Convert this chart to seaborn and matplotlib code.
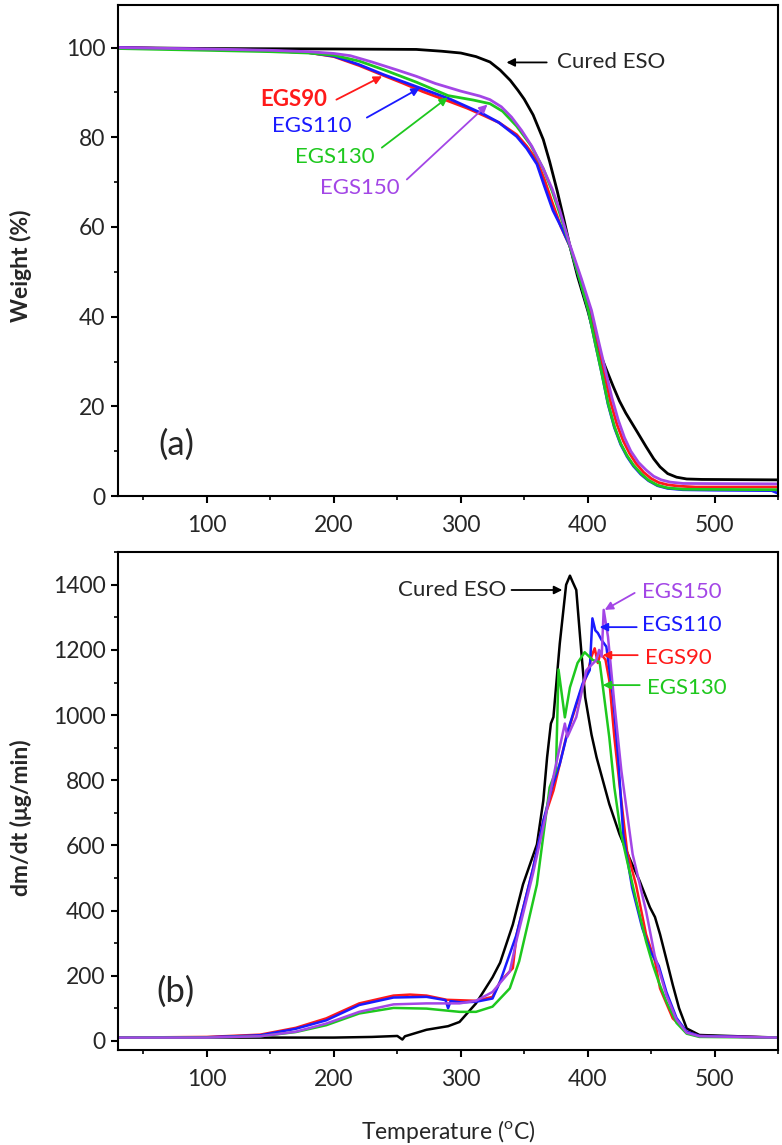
import numpy as np
import pandas as pd
import seaborn as sns
import matplotlib.pyplot as plt
from matplotlib.ticker import MultipleLocator

# ---- (a) TGA weight curves ----
eso_t = [30, 100, 200, 265, 285, 300, 312, 323, 331, 339, 345, 350, 357, 365, 370, 376, 381, 386, 392, 400, 408, 415, 420, 425, 430, 439, 446, 452, 457, 463, 470, 478, 490, 550]
eso_w = [100, 99.8, 99.7, 99.6, 99.2, 98.8, 98, 96.8, 95, 92.7, 90.5, 88.5, 85, 79.5, 74.6, 68, 62, 55.7, 49, 41.4, 33, 28, 24.5, 21.2, 18.5, 14.3, 11, 8.3, 6.5, 5, 4.2, 3.8, 3.7, 3.6]

egs90_t = [30, 100, 150, 180, 200, 220, 239, 255, 270, 291, 305, 317, 330, 344, 352, 360, 366, 372, 379, 386, 395, 402, 408, 413, 418, 423, 428, 433, 438, 444, 450, 456, 463, 472, 485, 550]
egs90_w = [100, 99.6, 99.3, 98.9, 98, 96, 93.8, 92, 90.2, 88, 86.5, 85, 83.3, 80.6, 78, 74.8, 70.5, 65.5, 60, 55.7, 48, 41.4, 34, 27.5, 21, 16, 12.3, 9.5, 7.3, 5.3, 3.9, 3.0, 2.5, 2.2, 2.0, 2.0]

egs110_t = [30, 100, 150, 180, 200, 220, 239, 268, 291, 317, 330, 344, 352, 360, 366, 372.6, 380, 386, 394, 400.5, 406, 411, 416, 421, 426, 431, 436, 442, 448, 455, 463, 475, 500, 545, 550]
egs110_w = [100, 99.6, 99.3, 98.9, 98.1, 96.2, 94, 91, 88.6, 85.3, 83.3, 80.2, 77.5, 74, 69, 63.7, 59.5, 55.7, 48, 41.4, 34, 27.5, 20.5, 15.3, 11.5, 8.8, 6.7, 4.8, 3.4, 2.3, 1.7, 1.4, 1.3, 1.2, 0.6]

egs130_t = [30, 100, 150, 180, 200, 220, 240, 265, 290, 310, 323, 333, 344, 355, 365, 372, 378, 386, 394, 400.5, 406, 411, 416, 421, 426, 431, 436, 442, 448, 455, 463, 475, 550]
egs130_w = [99.8, 99.4, 99.1, 98.8, 98.3, 97, 95, 92.3, 89.3, 88.3, 87.5, 85.8, 82.5, 78.3, 73, 68, 63, 55.7, 48, 41.4, 34, 27.5, 20.7, 15.5, 11.7, 9, 6.9, 5, 3.5, 2.4, 1.8, 1.5, 1.4]

egs150_t = [30, 100, 150, 180, 200, 213, 230, 250, 265, 280, 300, 315, 323, 332, 340, 348, 356, 365, 372, 378, 386, 395, 403, 409, 414, 419, 424, 429, 434, 440, 446, 452, 458, 465, 475, 550]
egs150_w = [100, 99.7, 99.4, 99.1, 98.7, 98.2, 96.8, 95, 93.6, 92, 90.3, 89.2, 88.4, 86.8, 84.5, 81.5, 78, 73, 68.5, 63.7, 56, 48.5, 41.4, 34, 28, 22, 17, 13, 10, 7.5, 5.8, 4.4, 3.6, 3.1, 2.8, 2.7]

# ---- (b) DTG curves ----
eso_dt = [30, 100, 200, 230, 250, 254, 256, 273, 290, 299, 312, 325, 331, 341, 349, 360, 365, 368, 371, 373, 378, 383, 386, 388, 391, 394, 398, 403, 407, 417, 425, 433, 441, 449, 453, 457, 462, 467, 472, 478, 488, 550]
eso_dv = [10, 10, 10, 12, 15, 4, 14, 34, 45, 58, 115, 195, 240, 357, 480, 603, 737, 870, 974, 994, 1220, 1400, 1428, 1410, 1384, 1240, 1055, 940, 870, 727, 635, 560, 490, 410, 380, 327, 250, 172, 100, 38, 18, 10]

egs90_dt = [30, 100, 142, 170, 194, 220, 247, 260, 273, 289, 312, 325, 331, 341, 344, 357, 365, 373, 383, 394, 400, 403, 405.5, 408, 410, 414, 417, 421, 425, 431, 438, 446, 453, 457, 467, 478, 488, 550]
egs90_dv = [10, 12, 19, 40, 69, 115, 139, 142, 139, 126, 123, 135, 182, 223, 327, 530, 675, 768, 932, 1067, 1130, 1180, 1205, 1160, 1190, 1170, 1107, 932, 789, 583, 480, 327, 244, 161, 69, 28, 15, 10]

egs110_dt = [30, 100, 142, 170, 194, 220, 247, 273, 288, 290, 292, 300, 312, 325, 331, 344, 357, 365, 372, 378, 385, 391, 396, 401.6, 403.7, 406, 408, 411, 414.7, 420, 424, 428, 435, 443, 450, 454, 456, 462, 470, 478, 488, 550]
egs110_dv = [10, 11, 17, 37, 63, 110, 133, 135, 125, 100, 122, 118, 120, 130, 182, 327, 530, 675, 780, 850, 960, 1036, 1097, 1138, 1297, 1260, 1252, 1230, 1210, 1055, 870, 634, 470, 346, 270, 244, 230, 150, 70, 28, 15, 10]

egs130_dt = [30, 100, 142, 170, 194, 220, 247, 273, 299, 312, 325, 338.6, 346, 360, 370, 375, 377, 382, 386, 392, 397.6, 404, 409.4, 412, 417, 421, 426, 430.5, 438.3, 446, 451.3, 456, 462, 470, 478, 488, 550]
egs130_dv = [10, 10, 14, 27, 48, 84, 101, 99, 89, 89, 105, 161, 244, 480, 778, 830, 1140, 993, 1085, 1160, 1193, 1169, 1163, 1085, 932, 778, 640, 562, 429, 305, 234, 180, 120, 55, 22, 12, 10]

egs150_dt = [30, 100, 142, 170, 194, 220, 247, 273, 299, 312, 325, 338.6, 344, 357, 366, 374, 382, 384, 391, 399, 406.8, 409, 411, 412.6, 416, 421, 426.5, 435.4, 446, 452.8, 456, 462, 470, 478, 488, 550]
egs150_dv = [10, 10, 14, 28, 53, 89, 112, 115, 115, 123, 150, 213, 310, 515, 675, 830, 974, 933, 994, 1138, 1169, 1200, 1180, 1323, 1240, 1036, 830, 573, 398, 262, 220, 140, 65, 25, 14, 10]

colors = {'Cured ESO': 'black', 'EGS90': '#ff1a1a', 'EGS110': '#1a1aff',
          'EGS130': '#1ec81e', 'EGS150': '#a346e6'}

sns.set_style('ticks')
plt.rcParams['font.family'] = ['Lato', 'DejaVu Sans']
plt.rcParams['mathtext.fontset'] = 'custom'
plt.rcParams['mathtext.rm'] = 'Lato'

fig = plt.figure(figsize=(7.82, 11.45), dpi=100)
ax1 = fig.add_axes([0.151, 0.5668, 0.844, 0.4288])
ax2 = fig.add_axes([0.151, 0.083, 0.844, 0.435])

tga = [('Cured ESO', eso_t, eso_w), ('EGS90', egs90_t, egs90_w), ('EGS110', egs110_t, egs110_w),
       ('EGS130', egs130_t, egs130_w), ('EGS150', egs150_t, egs150_w)]
for name, t, w in tga:
    sns.lineplot(x=t, y=w, color=colors[name], lw=2, sort=False, estimator=None, ax=ax1)

dtg = [('Cured ESO', eso_dt, eso_dv), ('EGS90', egs90_dt, egs90_dv), ('EGS110', egs110_dt, egs110_dv),
       ('EGS130', egs130_dt, egs130_dv), ('EGS150', egs150_dt, egs150_dv)]
for name, t, v in dtg:
    sns.lineplot(x=t, y=v, color=colors[name], lw=1.8, sort=False, estimator=None, ax=ax2)

for ax in (ax1, ax2):
    ax.set_xlim(30, 550)
    ax.xaxis.set_major_locator(MultipleLocator(100))
    ax.xaxis.set_minor_locator(MultipleLocator(50))
    for s in ax.spines.values():
        s.set_linewidth(1.5)
        s.set_color('black')
    ax.tick_params(which='major', direction='out', length=5, width=1.5, labelsize=16.5, pad=4, color='black')
    ax.tick_params(which='minor', direction='out', length=3, width=1.2, color='black')
    ax.tick_params(axis='x', which='major', pad=8.5)

ax1.set_ylim(0, 109.5)
ax1.yaxis.set_major_locator(MultipleLocator(20))
ax1.yaxis.set_minor_locator(MultipleLocator(10))
ax1.set_ylabel('Weight (%)', fontsize=16.5, fontweight='bold')
ax1.yaxis.set_label_coords(-0.13, 0.47)
ax1.set_xlabel('')

ax2.set_ylim(-28, 1501)
ax2.yaxis.set_major_locator(MultipleLocator(200))
ax2.yaxis.set_minor_locator(MultipleLocator(100))
ax2.set_ylabel('dm/dt (μg/min)', fontsize=16.5, fontweight='bold')
ax2.yaxis.set_label_coords(-0.13, 0.466)
ax2.set_xlabel('Temperature ($^{\\mathrm{o}}$C)', fontsize=16.5)
ax2.xaxis.set_label_coords(0.5, -0.137)


def arrow(ax, start, end, c):
    ax.annotate('', xy=end, xytext=start,
                arrowprops=dict(arrowstyle='-|>', color=c, lw=1.3, mutation_scale=12,
                                shrinkA=0, shrinkB=0))


# panel (a) labels
ax1.text(76, 11.4, '(a)', fontsize=25, ha='center', va='center')
ax1.text(375.6, 96.7, 'Cured ESO', fontsize=16, ha='left', va='center')
arrow(ax1, (367.7, 96.7), (336, 96.7), 'black')
ax1.text(168, 88.4, 'EGS90', fontsize=16, fontweight='bold', color=colors['EGS90'], ha='center', va='center')
arrow(ax1, (202, 88.4), (238, 93.6), colors['EGS90'])
ax1.text(182.3, 82.6, 'EGS110', fontsize=16, color=colors['EGS110'], ha='center', va='center')
arrow(ax1, (226, 84.4), (267.7, 91), colors['EGS110'])
ax1.text(200.8, 75.5, 'EGS130', fontsize=16, color=colors['EGS130'], ha='center', va='center')
arrow(ax1, (237.8, 77.7), (289.8, 88.9), colors['EGS130'])
ax1.text(220.5, 68.8, 'EGS150', fontsize=16, color=colors['EGS150'], ha='center', va='center')
arrow(ax1, (257.5, 70.6), (321, 87.3), colors['EGS150'])

# panel (b) labels
ax2.text(75, 150, '(b)', fontsize=25, ha='center', va='center')
ax2.text(336, 1384, 'Cured ESO', fontsize=16, ha='right', va='center')
arrow(ax2, (340, 1384), (380, 1384), 'black')
ax2.text(442.5, 1378, 'EGS150', fontsize=16, color=colors['EGS150'], ha='left', va='center')
arrow(ax2, (437, 1375), (413.4, 1323), colors['EGS150'])
ax2.text(443, 1277, 'EGS110', fontsize=16, color=colors['EGS110'], ha='left', va='center')
arrow(ax2, (438.6, 1270), (409.4, 1270), colors['EGS110'])
ax2.text(445, 1175, 'EGS90', fontsize=16, color=colors['EGS90'], ha='left', va='center')
arrow(ax2, (439.4, 1184), (411.8, 1184), colors['EGS90'])
ax2.text(447, 1082, 'EGS130', fontsize=16, color=colors['EGS130'], ha='left', va='center')
arrow(ax2, (441, 1092), (411.8, 1092), colors['EGS130'])

fig.savefig('out.png', dpi=100)
